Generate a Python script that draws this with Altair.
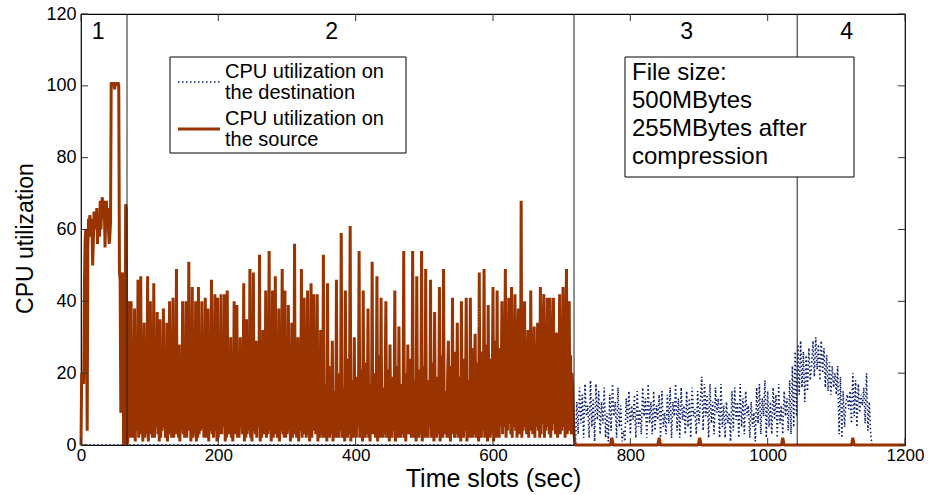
import altair as alt
import pandas as pd

FONT = "Liberation Sans"

# ---------------- data ----------------
# source CPU utilisation, one value per time slot (1 s), t = 0 .. 72
src_phase1 = [0, 20, 19, 20, 17, 45, 57, 60, 40, 4,
              55, 63, 62, 64, 58, 63, 61, 50, 57, 65,
              62, 64, 60, 66, 56, 62, 64, 58, 68, 60,
              65, 69, 63, 68, 66, 55, 64, 68, 62, 66,
              60, 56, 58, 62, 101, 100, 101, 100, 101, 99,
              101, 100, 101, 100, 101, 100, 48, 46, 9, 10,
              48, 47, 0, 1, 0, 67, 66, 0, 1, 40,
              3, 34, 2]
# t = 73 .. 720
src_phase2 = [40, 3, 14, 2, 9, 38, 1, 20, 4, 7, 46, 2, 12, 3,
              47, 4, 18, 1, 10, 34, 2, 22, 3, 6, 47, 1, 15, 4,
              40, 3, 10, 2, 12, 45, 2, 19, 5, 8, 37, 3, 24, 1,
              35, 2, 13, 4, 9, 38, 5, 17, 2, 6, 34, 1, 21, 3,
              40, 4, 11, 2, 14, 41, 2, 16, 3, 5, 49, 3, 25, 2,
              28, 1, 12, 4, 8, 40, 3, 18, 2, 10, 40, 2, 14, 5,
              51, 4, 20, 1, 7, 44, 2, 9, 3, 15, 40, 1, 23, 2,
              44, 3, 12, 4, 6, 40, 5, 18, 2, 11, 41, 2, 15, 3,
              38, 1, 21, 4, 8, 46, 3, 10, 2, 13, 42, 4, 19, 1,
              41, 2, 14, 3, 9, 42, 3, 26, 5, 7, 42, 1, 12, 2,
              43, 4, 17, 3, 10, 30, 2, 22, 1, 6, 40, 3, 13, 4,
              39, 2, 19, 2, 12, 30, 5, 11, 3, 8, 45, 1, 24, 2,
              35, 3, 15, 4, 9, 49, 2, 18, 1, 14, 48, 4, 12, 3,
              29, 2, 20, 5, 7, 53, 1, 16, 2, 11, 32, 3, 23, 4,
              43, 2, 10, 3, 13, 54, 4, 19, 1, 8, 43, 2, 14, 3,
              47, 5, 21, 2, 6, 38, 1, 12, 4, 15, 49, 3, 17, 2,
              43, 2, 25, 3, 9, 39, 4, 13, 1, 10, 34, 2, 19, 5,
              56, 3, 11, 2, 12, 30, 1, 22, 4, 7, 49, 2, 16, 3,
              41, 4, 13, 2, 14, 43, 3, 20, 1, 8, 45, 2, 12, 4,
              42, 5, 18, 3, 10, 42, 1, 24, 2, 6, 32, 3, 14, 2,
              53, 2, 17, 3, 11, 1, 45, 4, 22, 2, 9, 3, 13,
              29, 1, 15, 4, 8, 2, 46, 3, 20, 2, 12, 4, 7,
              59, 2, 13, 3, 16, 1, 43, 4, 24, 2, 10, 3, 14,
              61, 1, 18, 4, 9, 2, 30, 3, 12, 2, 19, 5, 8,
              54, 2, 21, 3, 11, 1, 43, 4, 15, 2, 23, 3, 10,
              38, 2, 14, 1, 17, 3, 51, 3, 9, 4, 20, 2, 12,
              47, 1, 25, 3, 13, 2, 41, 4, 16, 2, 10, 3, 18,
              40, 2, 12, 5, 21, 1, 28, 3, 19, 2, 14, 4, 9,
              43, 1, 22, 3, 11, 2, 33, 4, 13, 2, 17, 3, 8,
              54, 2, 20, 1, 12, 3, 28, 3, 15, 4, 24, 2, 10,
              54, 2, 11, 3, 18, 1, 47, 4, 21, 2, 9, 3, 15,
              54, 1, 14, 4, 22, 2, 49, 3, 18, 2, 12, 5, 7,
              46, 2, 23, 3, 10, 1, 37, 4, 13, 2, 19, 3, 11,
              44, 1, 16, 3, 25, 2, 49, 3, 10, 4, 15, 2, 20,
              29, 2, 22, 1, 13, 3, 41, 4, 17, 2, 26, 3, 9,
              34, 2, 12, 5, 19, 1, 40, 3, 24, 2, 14, 4, 16,
              41, 1, 18, 3, 11, 2, 41, 4, 27, 2, 15, 3, 21,
              31, 2, 13, 4, 23, 1, 48, 3, 26, 2, 17, 4, 12,
              49, 2, 20, 3, 28, 1, 39, 4, 16, 2, 24, 3, 19,
              44, 1, 29, 4, 14, 2, 43, 3, 22, 2, 27, 5, 18,
              40, 3, 28, 5, 22, 49, 2, 31, 4, 18, 41, 6, 26, 3,
              44, 2, 33, 5, 24, 42, 4, 27, 2, 30, 38, 3, 22, 6,
              68, 2, 34, 4, 25, 40, 5, 29, 3, 20, 32, 2, 26, 4,
              43, 6, 31, 3, 23, 33, 2, 28, 5, 19, 34, 4, 30, 2,
              44, 3, 24, 6, 32, 42, 2, 27, 4, 21, 41, 5, 33, 3,
              41, 2, 25, 4, 29, 41, 6, 22, 3, 31, 31, 2, 28, 5,
              42, 3, 34, 4, 23, 44, 5, 26, 2, 30, 49, 3, 29, 6,
              40, 4, 25, 3, 20,
              15, 8, 3, 1, 0]
# source after the transfer: idle with a few small bumps
src_tail_t = [721, 771, 773, 775, 840, 842, 844, 899, 901, 903,
              1020, 1022, 1024, 1122, 1124, 1126, 1200]
src_tail_v = [0, 0, 2, 0, 0, 2, 0, 0, 2, 0, 0, 2, 0, 0, 2, 0, 0]

# destination CPU utilisation
dst_idle_t = [0, 718]
dst_idle_v = [0, 0]
# one value every 2 s from t = 720
dst_active_v = [0, 12, 3, 16, 6, 14, 2, 17, 8, 11,
                2, 18, 5, 13, 1, 17, 7, 15, 3, 12,
                6, 16, 2, 9, 1, 14, 4, 17, 8, 12,
                2, 16, 5, 11, 1, 4, 1, 13, 6, 15,
                3, 11, 7, 14, 2, 15, 5, 10, 3, 16,
                8, 13, 2, 17, 6, 12, 3, 15, 4, 11,
                7, 14, 2, 15, 5, 9, 3, 14, 6, 16,
                2, 12, 8, 17, 4, 13, 2, 16, 7, 11,
                3, 15, 5, 13, 2, 16, 8, 10, 3, 15,
                6, 12, 19, 4, 17, 8, 14, 2, 17, 6,
                12, 3, 16, 9, 13, 2, 17, 5, 11, 2,
                12, 6, 9, 1, 15, 4, 16, 7, 12, 2,
                17, 5, 13, 3, 15, 8, 11, 2, 12, 5,
                9, 1, 16, 6, 17, 3, 13, 8, 18, 2,
                15, 5, 12, 3, 16, 7, 14, 2, 17, 6,
                11, 3, 15, 8, 13, 4, 18, 3, 22, 5,
                26, 8, 28, 14, 29, 16, 26, 12, 25, 15,
                27, 18, 22, 29, 19, 30, 21, 28, 18, 29,
                20, 27, 16, 25, 15, 23, 14, 22, 16, 20,
                14, 22, 3, 19, 2, 15, 5, 12, 14, 10,
                15, 6, 20, 8, 18, 5, 17, 9, 14, 11,
                16, 6, 20, 4, 12, 3, 0]
dst_end_t = [1200]
dst_end_v = [0]

phase_bounds = [67, 718, 1043]
phase_names = ["1", "2", "3", "4"]
phase_label_t = [25, 365, 882, 1115]
phase_label_v = [115, 115, 115, 115]

x_ticks = [0, 200, 400, 600, 800, 1000, 1200]
y_ticks = [0, 20, 40, 60, 80, 100, 120]

series_keys = ["dest", "src"]
series_colors = ["#0f1f70", "#993300"]
legend_text = [["CPU utilization on", "the destination"],
               ["CPU utilization on", "the source"]]

note_lines = ["File size:", "500MBytes", "255MBytes after", "compression"]

# ---------------- tables ----------------
src_main = src_phase1 + src_phase2
src_df = pd.DataFrame({
    "t": list(range(len(src_main))) + src_tail_t,
    "v": src_main + src_tail_v,
    "series": "src",
})
dst_df = pd.DataFrame({
    "t": dst_idle_t + [720 + 2 * i for i in range(len(dst_active_v))] + dst_end_t,
    "v": dst_idle_v + dst_active_v + dst_end_v,
    "series": "dest",
})

W, H = 824, 431

xs = alt.Scale(domain=[0, 1200], nice=False, zero=False)
ys = alt.Scale(domain=[0, 120], nice=False, zero=False)

x_axis = alt.Axis(values=x_ticks, ticks=False, domain=False, grid=False, format="d",
                  labelFont=FONT, labelFontSize=17, labelColor="black",
                  labelPadding=2, labelFlush=False,
                  title="Time slots (sec)", titleFont=FONT, titleFontSize=25,
                  titleFontWeight="normal", titleColor="black",
                  titleBaseline="alphabetic", titleY=41)
y_axis = alt.Axis(values=y_ticks, ticks=False, domain=False, grid=False, format="d",
                  labelFont=FONT, labelFontSize=18, labelColor="black",
                  labelPadding=5, labelFlush=False,
                  title="CPU utilization", titleFont=FONT, titleFontSize=23,
                  titleFontWeight="normal", titleColor="black",
                  titleX=-56, titleY=224, titleAlign="center",
                  titleBaseline="middle", titleAngle=270)

color_scale = alt.Scale(domain=series_keys, range=series_colors)
dash_scale = alt.Scale(domain=series_keys, range=[[1.5, 2.5], [1, 0]])
width_scale = alt.Scale(domain=series_keys, range=[1.6, 3])

enc_common = dict(
    x=alt.X("t:Q", scale=xs, axis=x_axis),
    y=alt.Y("v:Q", scale=ys, axis=y_axis),
    color=alt.Color("series:N", scale=color_scale, legend=None),
    strokeDash=alt.StrokeDash("series:N", scale=dash_scale, legend=None),
    strokeWidth=alt.StrokeWidth("series:N", scale=width_scale, legend=None),
)

dst_line = alt.Chart(dst_df).mark_line(strokeJoin="bevel", strokeCap="butt").encode(**enc_common)
src_line = alt.Chart(src_df).mark_line(strokeJoin="bevel", strokeCap="butt").encode(**enc_common)

bounds = alt.Chart(pd.DataFrame({"b": phase_bounds})).mark_rule(
    color="#222222", strokeWidth=1).encode(x=alt.X("b:Q", scale=xs))

labels = alt.Chart(pd.DataFrame({"t": phase_label_t, "v": phase_label_v, "name": phase_names})).mark_text(
    font=FONT, fontSize=23, color="black", baseline="middle", align="center").encode(
    x=alt.X("t:Q", scale=xs), y=alt.Y("v:Q", scale=ys), text="name:N")

one = pd.DataFrame({"k": [0]})

# ---- legend (box, line samples, two-line labels) ----
LX, LY, LW, LH = 89, 43, 236, 96       # box, plot-relative pixels
ENTRY_DY = 47
LINE_DY = 21
leg_box = alt.Chart(one).mark_rect(fill="white", stroke="black", strokeWidth=1).encode(
    x=alt.value(LX), x2=alt.value(LX + LW), y=alt.value(LY), y2=alt.value(LY + LH))
leg_rows = []
for i, key in enumerate(series_keys):
    for j, line in enumerate(legend_text[i]):
        leg_rows.append({"series": key, "txt": line,
                         "py": LY + 14.5 + i * ENTRY_DY + j * LINE_DY})
leg_lab = alt.Chart(pd.DataFrame(leg_rows)).mark_text(
    font=FONT, fontSize=20, color="black", align="left", baseline="middle").encode(
    x=alt.value(LX + 55), y=alt.Y("py:Q", scale=None), text="txt:N")
sym_rows = [{"series": k, "py": LY + 25 + i * ENTRY_DY} for i, k in enumerate(series_keys)]
leg_sym = alt.Chart(pd.DataFrame(sym_rows)).mark_rule(strokeCap="butt").encode(
    x=alt.value(LX + 8), x2=alt.value(LX + 50), y=alt.Y("py:Q", scale=None),
    color=alt.Color("series:N", scale=color_scale, legend=None),
    strokeDash=alt.StrokeDash("series:N", scale=dash_scale, legend=None),
    strokeWidth=alt.StrokeWidth("series:N", scale=width_scale, legend=None))

# ---- note box ----
note_box = alt.Chart(one).mark_rect(fill="white", stroke="black", strokeWidth=1).encode(
    x=alt.value(544), x2=alt.value(773), y=alt.value(43), y2=alt.value(163))
note_text = alt.Chart(one).mark_text(
    font=FONT, fontSize=24, color="black", align="left", baseline="alphabetic",
    lineBreak="\n", lineHeight=28).encode(
    x=alt.value(551), y=alt.value(66), text=alt.value("\n".join(note_lines)))

# ---- inward ticks on all four sides ----
tick_len = 7
xt_df = pd.DataFrame({"p": x_ticks})
yt_df = pd.DataFrame({"p": y_ticks})
tick_color = "#333333"
ticks_bottom = alt.Chart(xt_df).mark_rule(color=tick_color).encode(
    x=alt.X("p:Q", scale=xs), y=alt.value(H), y2=alt.value(H - tick_len))
ticks_top = alt.Chart(xt_df).mark_rule(color=tick_color).encode(
    x=alt.X("p:Q", scale=xs), y=alt.value(0), y2=alt.value(tick_len))
ticks_left = alt.Chart(yt_df).mark_rule(color=tick_color).encode(
    y=alt.Y("p:Q", scale=ys), x=alt.value(0), x2=alt.value(tick_len))
ticks_right = alt.Chart(yt_df).mark_rule(color=tick_color).encode(
    y=alt.Y("p:Q", scale=ys), x=alt.value(W), x2=alt.value(W - tick_len))

chart = alt.layer(
    dst_line, src_line, bounds, note_box, note_text, labels,
    leg_box, leg_sym, leg_lab,
    ticks_bottom, ticks_top, ticks_left, ticks_right,
).properties(
    width=W, height=H,
    autosize=alt.AutoSizeParams(type="none"),
    padding={"left": 81, "top": 14, "right": 23, "bottom": 50},
    background="white",
).configure(
    view=alt.ViewConfig(stroke="black", strokeWidth=1.2),
)

chart.save("out.html", embed_options={"renderer": "svg", "actions": False})
